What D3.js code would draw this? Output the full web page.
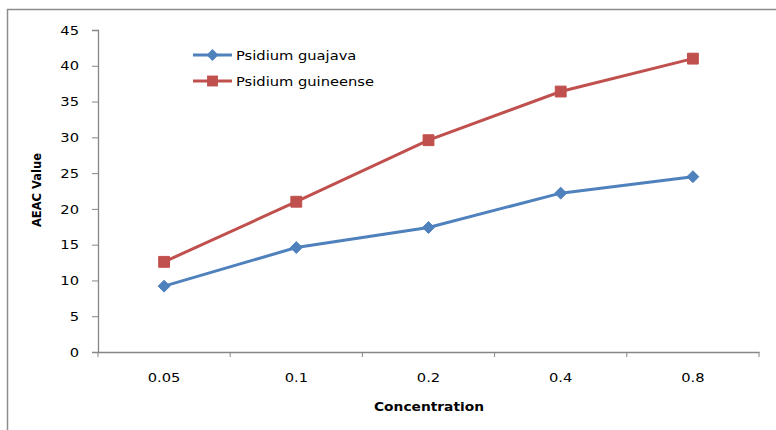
<!DOCTYPE html>
<html><head><meta charset="utf-8">
<script src="https://cdn.jsdelivr.net/npm/d3@7"></script>
<style>body{margin:0;background:#fff}svg{display:block}text{font-family:"DejaVu Sans",Verdana,sans-serif}</style>
</head><body><svg id="c" width="776" height="430"></svg>
<script>
const categories = ["0.05","0.1","0.2","0.4","0.8"];
const guajava = [9.2, 14.6, 17.4, 22.2, 24.5];
const guineense = [12.6, 21.0, 29.6, 36.4, 41.0];
const yTicks = [0,5,10,15,20,25,30,35,40,45];
const seriesNames = ["Psidium guajava","Psidium guineense"];

const SX = 1.13;
const svg = d3.select("#c");
svg.append("rect").attr("x",7.5).attr("y",9.5).attr("width",800).attr("height",500)
  .attr("fill","none").attr("stroke","#8c8c8c").attr("stroke-width",1.5);

const x = d3.scaleBand().domain(categories).range([98,759]);
const y = d3.scaleLinear().domain([0,45]).range([352,30]);

function stretch(sel){
  sel.each(function(){
    const t = d3.select(this);
    const tx = +t.attr("x")||0, ty = +t.attr("y")||0;
    t.attr("transform",`translate(${tx},${ty}) scale(${SX},1)`).attr("x",0).attr("y",0);
  });
}

const yAxis = svg.append("g").attr("transform","translate(98,0)")
  .call(d3.axisLeft(y).tickValues(yTicks).tickSize(6).tickPadding(13));
const xAxis = svg.append("g").attr("transform","translate(0,352)")
  .call(d3.axisBottom(x).tickSize(0).tickPadding(21));
[yAxis,xAxis].forEach(g=>{
  g.select(".domain").attr("stroke","#868686").attr("stroke-width",1.3);
  g.selectAll("line").attr("stroke","#868686");
  g.selectAll("text").attr("font-size","13px").attr("fill","#000")
   .attr("font-family","DejaVu Sans, sans-serif");
  stretch(g.selectAll("text"));
});
// category boundary ticks
xAxis.selectAll(".bt").data(categories.concat(["_end"])).enter().append("line")
  .attr("x1",(d,i)=>98+i*x.step()).attr("x2",(d,i)=>98+i*x.step())
  .attr("y1",0).attr("y2",5).attr("stroke","#868686");

const line = d3.line().x((d,i)=>x(categories[i])+x.bandwidth()/2).y(d=>y(d));
const cols = ["#4F81BD","#C0504D"];
const diamond = d3.symbol().type(d3.symbolDiamond2).size(90)();
const square = d3.symbol().type(d3.symbolSquare2).size(150)();
[guajava,guineense].forEach((s,k)=>{
  svg.append("path").datum(s).attr("d",line).attr("fill","none")
    .attr("stroke",cols[k]).attr("stroke-width",3);
  svg.selectAll(".m"+k).data(s).enter().append("path")
    .attr("transform",(d,i)=>`translate(${x(categories[i])+x.bandwidth()/2},${y(d)})`)
    .attr("d", k===0 ? diamond : square)
    .attr("fill",cols[k]).attr("stroke",cols[k]).attr("stroke-width",1);
});

// legend
const leg = svg.append("g");
seriesNames.forEach((n,k)=>{
  const yy = 55 + k*26;
  leg.append("line").attr("x1",193).attr("x2",232).attr("y1",yy).attr("y2",yy)
    .attr("stroke",cols[k]).attr("stroke-width",3);
  leg.append("path").attr("transform",`translate(212.5,${yy})`)
    .attr("d", k===0 ? diamond : square).attr("fill",cols[k]);
  leg.append("text").attr("transform",`translate(236,${yy}) scale(${SX},1)`).attr("dy","0.35em")
    .attr("font-size","13px").text(n);
});

svg.append("text").attr("transform","translate(41,190) rotate(-90)")
  .attr("text-anchor","middle").attr("font-size","11.5px").attr("font-weight","bold")
  .attr("font-family","Liberation Sans, Arial, sans-serif").text("AEAC Value");
svg.append("text").attr("transform",`translate(429,411) scale(1.15,1)`).attr("text-anchor","middle")
  .attr("font-size","12px").attr("font-weight","bold").text("Concentration");
</script></body></html>
